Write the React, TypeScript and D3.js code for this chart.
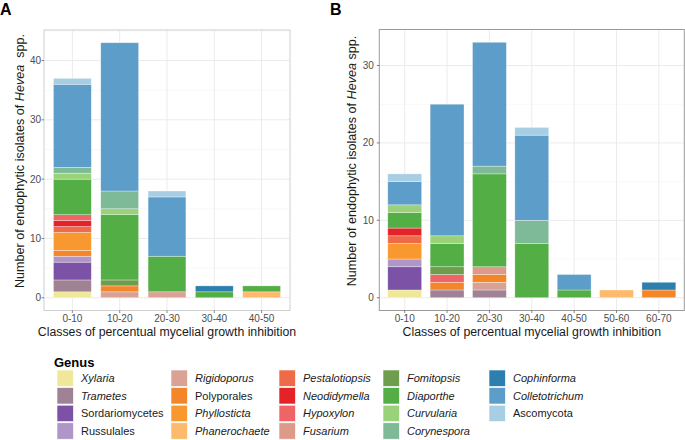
import React from "react";
import * as d3 from "d3";

const genera = [
  "Xylaria", "Trametes", "Sordariomycetes", "Russulales", "Rigidoporus",
  "Polyporales", "Phyllosticta", "Phanerochaete", "Pestalotiopsis", "Neodidymella",
  "Hypoxylon", "Fusarium", "Fomitopsis", "Diaporthe", "Curvularia",
  "Corynespora", "Cophinforma", "Colletotrichum", "Ascomycota",
];
const nonItalic = ["Sordariomycetes", "Russulales", "Polyporales", "Ascomycota"];
const genusColors = [
  "#EEE898", "#A08295", "#7B52A5", "#B095C8", "#D9A295",
  "#F4862A", "#FA9830", "#FDB96C", "#EF6B48", "#E42328",
  "#EF6566", "#DE9A89", "#6F9D4E", "#52AE45", "#99D279",
  "#7EBA98", "#2D7FB0", "#5D9DCA", "#A7CEE3",
];

const classesA = ["0-10", "10-20", "20-30", "30-40", "40-50"];
const classesB = ["0-10", "10-20", "20-30", "30-40", "40-50", "50-60", "60-70"];

// counts per genus (rows in genera order) for each class
const countsA = [
  [1, 0, 0, 0, 0],
  [2, 0, 0, 0, 0],
  [3, 0, 0, 0, 0],
  [1, 0, 0, 0, 0],
  [0, 1, 1, 0, 0],
  [1, 1, 0, 0, 0],
  [3, 0, 0, 0, 0],
  [0, 0, 0, 0, 1],
  [1, 0, 0, 0, 0],
  [1, 0, 0, 0, 0],
  [1, 0, 0, 0, 0],
  [0, 0, 0, 0, 0],
  [0, 1, 0, 0, 0],
  [6, 11, 6, 1, 1],
  [1, 1, 0, 0, 0],
  [1, 3, 0, 0, 0],
  [0, 0, 0, 1, 0],
  [14, 25, 10, 0, 0],
  [1, 0, 1, 0, 0],
];
const countsB = [
  [1, 0, 0, 0, 0, 0, 0],
  [0, 1, 1, 0, 0, 0, 0],
  [3, 0, 0, 0, 0, 0, 0],
  [1, 0, 0, 0, 0, 0, 0],
  [0, 0, 1, 0, 0, 0, 0],
  [0, 1, 1, 0, 0, 0, 1],
  [2, 0, 0, 0, 0, 0, 0],
  [0, 0, 0, 0, 0, 1, 0],
  [1, 0, 0, 0, 0, 0, 0],
  [1, 0, 0, 0, 0, 0, 0],
  [0, 1, 0, 0, 0, 0, 0],
  [0, 0, 1, 0, 0, 0, 0],
  [0, 1, 0, 0, 0, 0, 0],
  [2, 3, 12, 7, 1, 0, 0],
  [1, 1, 0, 0, 0, 0, 0],
  [0, 0, 1, 3, 0, 0, 0],
  [0, 0, 0, 0, 0, 0, 1],
  [3, 17, 16, 11, 2, 0, 0],
  [1, 0, 0, 1, 0, 0, 0],
];
const yTicksA = [0, 10, 20, 30, 40];
const yTicksB = [0, 10, 20, 30];

const FONT = "'Liberation Sans', Arial, Helvetica, sans-serif";

type PanelProps = {
  classes: string[];
  counts: number[][];
  yTicks: number[];
  left: number;
  right: number;
  top: number;
  bottom: number;
  label: string;
  labelX: number;
  titleX: number;
  titleSpaced: boolean;
  borderColor: string;
  labelGap: number;
};

function Panel(p: PanelProps) {
  const rows = p.classes.map((c, i) => {
    const r: any = { cls: c };
    genera.forEach((g, gi) => (r[g] = p.counts[gi][i]));
    return r;
  });
  const series = d3.stack<any>().keys(genera)(rows);
  const maxTotal = d3.max(rows, (r: any) => d3.sum(genera, (g) => r[g])) as number;
  const y = d3
    .scaleLinear()
    .domain([-0.05 * maxTotal, 1.05 * maxTotal])
    .range([p.bottom, p.top]);
  const x = d3
    .scaleBand()
    .domain(p.classes)
    .range([p.left, p.right])
    .paddingInner(0.2)
    .paddingOuter(0.2);
  const minor = p.yTicks.slice(0, -1).map((t, i) => (t + p.yTicks[i + 1]) / 2);
  const lastT = p.yTicks[p.yTicks.length - 1];
  if (lastT + 5 < y.domain()[1]) minor.push(lastT + 5);
  const cx = (p.left + p.right) / 2;
  const cy = 161;
  return (
    <g>
      <text x={p.labelX} y={15} fontFamily={FONT} fontWeight="bold" fontSize={16} fill="#000">
        {p.label}
      </text>
      {minor.map((t) => (
        <line key={"m" + t} x1={p.left} x2={p.right} y1={y(t)} y2={y(t)} stroke="#F4F4F4" strokeWidth={0.6} />
      ))}
      {p.yTicks.map((t) => (
        <line key={"g" + t} x1={p.left} x2={p.right} y1={y(t)} y2={y(t)} stroke="#EBEBEB" strokeWidth={1} />
      ))}
      {p.classes.map((c) => (
        <line
          key={"v" + c}
          x1={(x(c) as number) + x.bandwidth() / 2}
          x2={(x(c) as number) + x.bandwidth() / 2}
          y1={p.top}
          y2={p.bottom}
          stroke="#EBEBEB"
          strokeWidth={1}
        />
      ))}
      {series.map((s, gi) =>
        s.map((d, i) =>
          d[1] - d[0] > 0 ? (
            <rect
              key={gi + "-" + i}
              x={x(p.classes[i]) as number}
              width={x.bandwidth()}
              y={y(d[1])}
              height={y(d[0]) - y(d[1])}
              fill={genusColors[gi]}
              stroke="#FFFFFF"
              strokeOpacity={0.55}
              strokeWidth={0.6}
            />
          ) : null
        )
      )}
      <rect x={p.left} y={p.top} width={p.right - p.left} height={p.bottom - p.top} fill="none" stroke={p.borderColor} strokeWidth={1} />
      {p.yTicks.map((t) => (
        <g key={"t" + t}>
          <line x1={p.left - 2.5} x2={p.left} y1={y(t)} y2={y(t)} stroke="#333" strokeWidth={0.6} />
          <text
            x={p.left - p.labelGap}
            y={y(t)}
            dy="0.35em"
            textAnchor="end"
            fontFamily={FONT}
            fontSize={10}
            fill="#4D4D4D"
          >
            {t}
          </text>
        </g>
      ))}
      {p.classes.map((c) => {
        const xc = (x(c) as number) + x.bandwidth() / 2;
        return (
          <g key={"xt" + c}>
            <line x1={xc} x2={xc} y1={p.bottom} y2={p.bottom + 2.5} stroke="#333" strokeWidth={0.6} />
            <text x={xc} y={p.bottom + 11.5} textAnchor="middle" fontFamily={FONT} fontSize={10} fill="#4D4D4D">
              {c}
            </text>
          </g>
        );
      })}
      <text x={cx} y={336} textAnchor="middle" fontFamily={FONT} fontSize={12.3} fill="#1A1A1A">
        Classes of percentual mycelial growth inhibition
      </text>
      <text
        transform={`translate(${p.titleX},${cy}) rotate(-90)`}
        textAnchor="middle"
        dy="0.35em"
        fontFamily={FONT}
        fontSize={12.6}
        fill="#1A1A1A"
        style={{ whiteSpace: "pre" }}
      >
        {p.titleSpaced ? "Number of endophytic isolates of " : "Number of endophytic isolates of "}
        <tspan fontStyle="italic">Hevea</tspan>
        {p.titleSpaced ? "  spp." : " spp."}
      </text>
    </g>
  );
}

function Legend() {
  const colX = [57, 171, 279, 383, 489];
  const rowY = [370, 387.6, 405.2, 422.8];
  const key = 16.4;
  return (
    <g>
      <text x={54} y={366.5} fontFamily={FONT} fontWeight="bold" fontSize={13} fill="#000">
        Genus
      </text>
      {genera.map((g, i) => {
        const c = Math.floor(i / 4);
        const r = i % 4;
        return (
          <g key={g}>
            <rect x={colX[c]} y={rowY[r]} width={key} height={key} fill={genusColors[i]} stroke="#FFFFFF" strokeWidth={0.6} />
            <text
              x={colX[c] + 24}
              y={rowY[r] + key / 2}
              dy="0.35em"
              fontFamily={FONT}
              fontSize={11}
              fontStyle={nonItalic.includes(g) ? "normal" : "italic"}
              fill="#1A1A1A"
            >
              {g}
            </text>
          </g>
        );
      })}
    </g>
  );
}

export default function App() {
  return (
    <svg
      width={685}
      height={440}
      viewBox="0 0 685 440"
      style={{ position: "absolute", left: 0, top: 0, background: "#FFFFFF" }}
    >
      <rect width={685} height={440} fill="#FFFFFF" />
      <Panel
        classes={classesA}
        counts={countsA}
        yTicks={yTicksA}
        left={44}
        right={290}
        top={30}
        bottom={310.5}
        label="A"
        labelX={0}
        titleX={20}
        titleSpaced={true}
        borderColor="#CFCFCF"
        labelGap={3}
      />
      <Panel
        classes={classesB}
        counts={countsB}
        yTicks={yTicksB}
        left={379.3}
        right={684.3}
        top={29.5}
        bottom={310.5}
        label="B"
        labelX={330}
        titleX={352}
        titleSpaced={false}
        borderColor="#9A9A9A"
        labelGap={5.5}
      />
      <Legend />
    </svg>
  );
}
